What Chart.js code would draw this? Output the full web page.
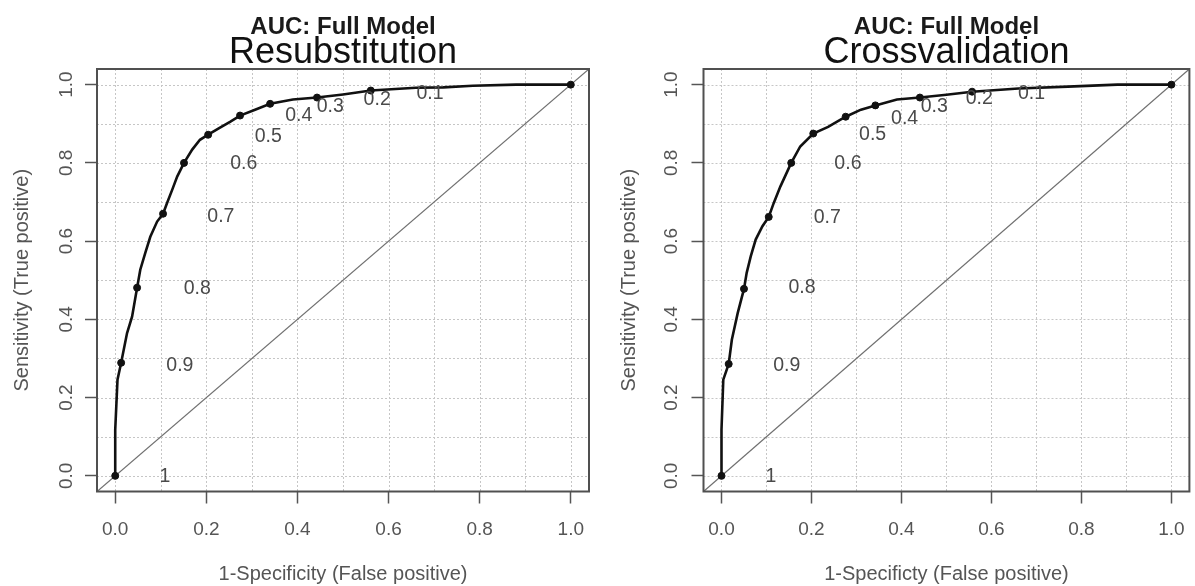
<!DOCTYPE html>
<html><head><meta charset="utf-8">
<script src="https://cdn.jsdelivr.net/npm/chart.js@4.4.1/dist/chart.umd.min.js"></script>
<style>
html,body{margin:0;padding:0;background:#fff;overflow:hidden;width:1195px;height:586px;}
#w1{position:absolute;left:0;top:0;width:600px;height:586px;}
#w2{position:absolute;left:600px;top:0;width:600px;height:586px;}
</style></head><body>
<div id="w1"><canvas id="c1" width="600" height="586"></canvas></div>
<div id="w2"><canvas id="c2" width="600" height="586"></canvas></div>
<script>
// ---- data ----
const gridValues = [0, 0.1, 0.2, 0.3, 0.4, 0.5, 0.6, 0.7, 0.8, 0.9, 1.0];
const tickValues = [0, 0.2, 0.4, 0.6, 0.8, 1.0];
const tickLabels = ['0.0', '0.2', '0.4', '0.6', '0.8', '1.0'];
const cutoffLabels = ['1', '0.9', '0.8', '0.7', '0.6', '0.5', '0.4', '0.3', '0.2', '0.1'];
const diagX = [-0.04, 1.04];
const diagY = [-0.04, 1.04];

// Resubstitution ROC curve
const resubFpr = [0, 0.0, 0.005, 0.013, 0.026, 0.037, 0.048, 0.055, 0.066, 0.077, 0.092, 0.105, 0.114, 0.125, 0.136, 0.151, 0.169, 0.186, 0.204, 0.230, 0.252, 0.274, 0.307, 0.340, 0.390, 0.443, 0.500, 0.561, 0.660, 0.720, 0.785, 0.880, 1.0];
const resubTpr = [0, 0.118, 0.246, 0.289, 0.365, 0.407, 0.481, 0.527, 0.570, 0.611, 0.650, 0.670, 0.698, 0.731, 0.765, 0.800, 0.834, 0.859, 0.872, 0.890, 0.905, 0.921, 0.936, 0.951, 0.962, 0.967, 0.975, 0.985, 0.992, 0.993, 0.997, 1.0, 1.0];
const resubCutFpr = [0, 0.013, 0.048, 0.105, 0.151, 0.204, 0.274, 0.340, 0.443, 0.561, 1.0];
const resubCutTpr = [0, 0.289, 0.481, 0.670, 0.800, 0.872, 0.921, 0.951, 0.967, 0.985, 1.0];
const resubLabelFpr = [0.109, 0.142, 0.180, 0.232, 0.282, 0.336, 0.403, 0.472, 0.575, 0.691];
const resubLabelTpr = [-0.003, 0.283, 0.478, 0.663, 0.797, 0.866, 0.920, 0.943, 0.961, 0.976];

// Crossvalidation ROC curve
const cvFpr = [0, 0.0, 0.004, 0.016, 0.023, 0.036, 0.050, 0.056, 0.065, 0.076, 0.091, 0.105, 0.116, 0.131, 0.155, 0.175, 0.204, 0.237, 0.276, 0.310, 0.342, 0.390, 0.441, 0.500, 0.557, 0.660, 0.770, 0.880, 1.0];
const cvTpr = [0, 0.118, 0.246, 0.286, 0.348, 0.416, 0.478, 0.519, 0.561, 0.604, 0.638, 0.662, 0.697, 0.740, 0.800, 0.842, 0.875, 0.892, 0.918, 0.936, 0.947, 0.962, 0.967, 0.974, 0.982, 0.990, 0.995, 1.0, 1.0];
const cvCutFpr = [0, 0.016, 0.050, 0.105, 0.155, 0.204, 0.276, 0.342, 0.441, 0.557, 1.0];
const cvCutTpr = [0, 0.286, 0.478, 0.662, 0.800, 0.875, 0.918, 0.947, 0.967, 0.982, 1.0];
const cvLabelFpr = [0.110, 0.145, 0.179, 0.235, 0.281, 0.336, 0.407, 0.473, 0.573, 0.689];
const cvLabelTpr = [-0.003, 0.281, 0.480, 0.659, 0.799, 0.871, 0.914, 0.944, 0.963, 0.976];

// ---- drawing ----
const FONT = "'Liberation Sans', Arial, Helvetica, sans-serif";
const zip = (xs, ys) => xs.map((v, i) => ({x: v, y: ys[i]}));
const isLabeled = v => tickValues.some(t => Math.abs(t - v) < 1e-9);
const labelFor = v => { const i = tickValues.findIndex(t => Math.abs(t - v) < 1e-9); return i >= 0 ? tickLabels[i] : ''; };

const rocDecor = {
  id: 'rocDecor',
  beforeDatasetsDraw(chart) {
    const {ctx, chartArea: a, scales: {x, y}} = chart;
    ctx.save();
    ctx.strokeStyle = '#c6c6c6'; ctx.lineWidth = 1; ctx.setLineDash([2, 2]);
    gridValues.forEach(v => {
      const px = Math.round(x.getPixelForValue(v)) + 0.5;
      ctx.beginPath(); ctx.moveTo(px, a.top); ctx.lineTo(px, a.bottom); ctx.stroke();
      const py = Math.round(y.getPixelForValue(v)) + 0.5;
      ctx.beginPath(); ctx.moveTo(a.left, py); ctx.lineTo(a.right, py); ctx.stroke();
    });
    ctx.restore();
  },
  afterDatasetsDraw(chart, args, o) {
    const {ctx, chartArea: a, scales: {x, y}} = chart;
    ctx.save();
    // box
    ctx.strokeStyle = '#505050'; ctx.lineWidth = 2; ctx.setLineDash([]);
    ctx.strokeRect(a.left, a.top, a.right - a.left, a.bottom - a.top);
    // cutoff labels
    ctx.fillStyle = '#4a4a4a';
    ctx.font = '19.5px ' + FONT;
    ctx.textAlign = 'center'; ctx.textBaseline = 'middle';
    o.labels.forEach((t, i) => {
      ctx.fillText(t, x.getPixelForValue(o.lx[i]), y.getPixelForValue(o.ly[i]));
    });
    // rotated y tick labels (R style)
    ctx.fillStyle = '#555';
    ctx.font = '19px ' + FONT;
    tickValues.forEach((v, i) => {
      ctx.save();
      ctx.translate(a.left - o.yLabelOffset, y.getPixelForValue(v));
      ctx.rotate(-Math.PI / 2);
      ctx.fillText(tickLabels[i], 0, 0);
      ctx.restore();
    });
    ctx.restore();
  }
};

function makeChart(id, p) {
  const tickGrid = {
    drawOnChartArea: false, drawTicks: true, tickLength: 12, tickWidth: 1.5,
    tickColor: c => (c.tick && isLabeled(c.tick.value)) ? '#555' : 'rgba(0,0,0,0)'
  };
  return new Chart(document.getElementById(id), {
    type: 'scatter',
    data: {
      datasets: [
        {data: zip(diagX, diagY), showLine: true, borderColor: '#707070', borderWidth: 1.2, pointRadius: 0, order: 3},
        {data: zip(p.fpr, p.tpr), showLine: true, borderColor: '#111', borderWidth: 2.6, pointRadius: 0, tension: 0, order: 2},
        {data: zip(p.cutX, p.cutY), showLine: false, pointRadius: 3.5, pointBackgroundColor: '#111', pointBorderColor: '#111', order: 1}
      ]
    },
    options: {
      responsive: false, animation: false, devicePixelRatio: 1,
      layout: {padding: {left: 0, right: p.padRight, top: 0, bottom: 0}},
      plugins: {
        legend: {display: false}, tooltip: {enabled: false},
        title: {display: true, text: 'AUC: Full Model', fullSize: false, color: '#1a1a1a',
                font: {family: FONT, size: 24, weight: 'bold', lineHeight: 0.8}, padding: {top: 18.2, bottom: 0}},
        subtitle: {display: true, text: p.subtitle, fullSize: false, color: '#111',
                font: {family: FONT, size: 36, weight: 'normal', lineHeight: 0.85}, padding: {top: 0.5, bottom: 0.5}},
        rocDecor: {labels: cutoffLabels, lx: p.labX, ly: p.labY, yLabelOffset: p.yLabelOffset}
      },
      scales: {
        x: {
          type: 'linear', position: 'bottom', min: -0.04, max: 1.04,
          afterBuildTicks: s => { s.ticks = gridValues.map(v => ({value: v})); },
          afterFit: s => { s.height = 94.5; },
          grid: tickGrid, border: {display: false},
          ticks: {autoSkip: false, maxRotation: 0, minRotation: 0, padding: 15, color: '#555',
                  font: {family: FONT, size: 19, lineHeight: 1.2}, callback: v => labelFor(v)},
          title: {display: true, text: p.xTitle, color: '#555', font: {family: FONT, size: 20, lineHeight: 1},
                  padding: {top: 0, bottom: 2}}
        },
        y: {
          type: 'linear', position: 'left', min: -0.04, max: 1.04,
          afterBuildTicks: s => { s.ticks = gridValues.map(v => ({value: v})); },
          afterFit: s => { s.width = p.yWidth; },
          grid: tickGrid, border: {display: false},
          ticks: {display: false},
          title: {display: true, text: 'Sensitivity (True positive)', color: '#555',
                  font: {family: FONT, size: 20, lineHeight: 1}, padding: {top: p.yTitlePad, bottom: 0}}
        }
      }
    },
    plugins: [rocDecor]
  });
}

makeChart('c1', {subtitle: 'Resubstitution', xTitle: '1-Specificity (False positive)',
  fpr: resubFpr, tpr: resubTpr, cutX: resubCutFpr, cutY: resubCutTpr, labX: resubLabelFpr, labY: resubLabelTpr,
  yWidth: 97, padRight: 11, yTitlePad: 12.5, yLabelOffset: 30.5});
makeChart('c2', {subtitle: 'Crossvalidation', xTitle: '1-Specificty (False positive)',
  fpr: cvFpr, tpr: cvTpr, cutX: cvCutFpr, cutY: cvCutTpr, labX: cvLabelFpr, labY: cvLabelTpr,
  yWidth: 103.5, padRight: 4.5, yTitlePad: 19, yLabelOffset: 31.5});
</script>
</body></html>
